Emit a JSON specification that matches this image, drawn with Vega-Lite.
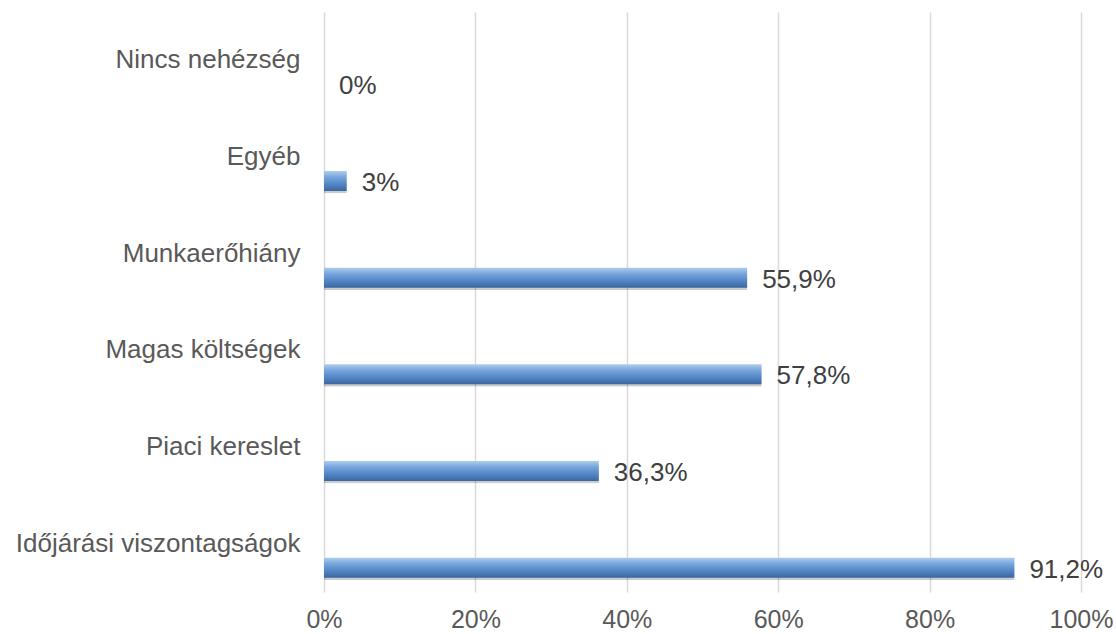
{
  "$schema": "https://vega.github.io/schema/vega-lite/v6.json",
  "width": 757,
  "height": 580,
  "autosize": {"type": "none"},
  "padding": {"left": 324, "top": 12, "right": 35, "bottom": 42},
  "background": "white",
  "data": {
    "values": [
      {"category": "Nincs nehézség", "value": 0, "label": "0%"},
      {"category": "Egyéb", "value": 3, "label": "3%"},
      {"category": "Munkaerőhiány", "value": 55.9, "label": "55,9%"},
      {"category": "Magas költségek", "value": 57.8, "label": "57,8%"},
      {"category": "Piaci kereslet", "value": 36.3, "label": "36,3%"},
      {"category": "Időjárási viszontagságok", "value": 91.2, "label": "91,2%"}
    ]
  },
  "encoding": {
    "y": {
      "field": "category",
      "type": "nominal",
      "sort": null,
      "scale": {"paddingInner": 0, "paddingOuter": 0},
      "axis": {
        "title": null,
        "ticks": false,
        "domain": false,
        "labelPadding": 24,
        "labelFont": "Liberation Sans",
        "labelFontSize": 26,
        "labelColor": "#595959",
        "labelAlign": "right",
        "labelLimit": 400
      }
    },
    "x": {
      "field": "value",
      "type": "quantitative",
      "scale": {"domain": [0, 100], "nice": false},
      "axis": {
        "title": null,
        "values": [0, 20, 40, 60, 80, 100],
        "labelExpr": "datum.value + '%'",
        "ticks": false,
        "domain": false,
        "grid": true,
        "gridColor": "#d9d9d9",
        "gridWidth": 1.5,
        "labelPadding": 15,
        "labelFont": "Liberation Sans",
        "labelFontSize": 25,
        "labelColor": "#595959",
        "labelFlush": false
      }
    }
  },
  "layer": [
    {
      "mark": {"type": "bar", "height": 20, "yOffset": 26.5, "color": "#000000", "opacity": 0.2, "cornerRadius": 1},
      "encoding": {}
    },
    {
      "mark": {
        "type": "bar",
        "height": 20,
        "yOffset": 24,
        "color": {
          "gradient": "linear",
          "x1": 0, "y1": 0, "x2": 0, "y2": 1,
          "stops": [
            {"offset": 0, "color": "#aecdf0"},
            {"offset": 0.3, "color": "#78a6dc"},
            {"offset": 0.65, "color": "#5486c6"},
            {"offset": 1, "color": "#3a669f"}
          ]
        }
      },
      "encoding": {}
    },
    {
      "mark": {
        "type": "text",
        "align": "left",
        "baseline": "middle",
        "dx": 15,
        "yOffset": 26,
        "font": "Liberation Sans",
        "fontSize": 26,
        "color": "#404040"
      },
      "encoding": {"text": {"field": "label"}}
    }
  ],
  "config": {"view": {"stroke": null}}
}
